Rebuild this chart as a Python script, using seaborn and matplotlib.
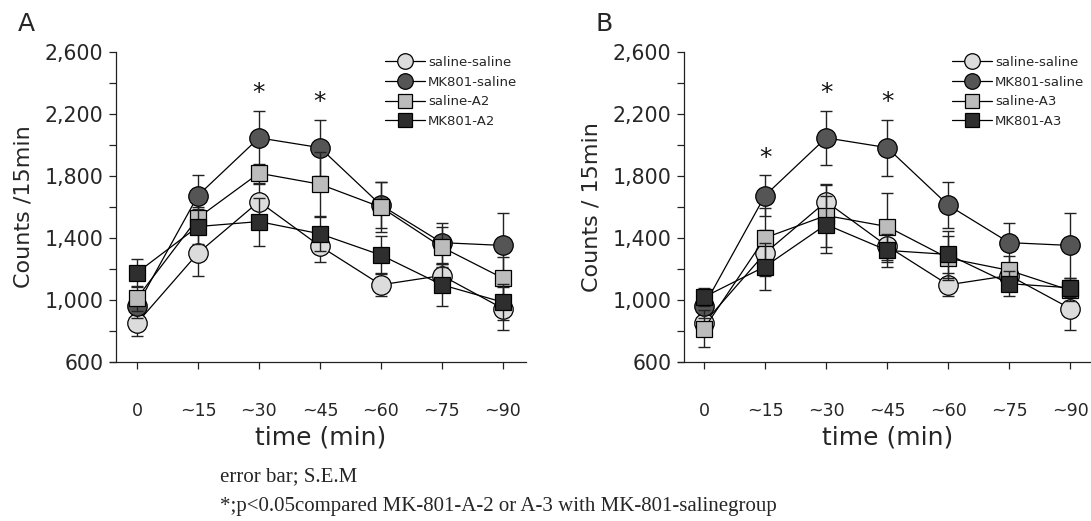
import numpy as np
import pandas as pd
import matplotlib
matplotlib.use("Agg")
import matplotlib.pyplot as plt
import seaborn as sns
from matplotlib.ticker import FixedLocator, FuncFormatter

# ---- data ----
time_labels = ["0", "~15", "~30", "~45", "~60", "~75", "~90"]

saline_saline = [851, 1302, 1635, 1348, 1098, 1158, 945]
saline_saline_err = [85, 150, 115, 100, 75, 75, 140]
mk801_saline = [962, 1674, 2046, 1983, 1612, 1370, 1352]
mk801_saline_err = [80, 130, 175, 180, 150, 130, 210]

saline_a2 = [1012, 1530, 1818, 1747, 1599, 1341, 1141]
saline_a2_err = [80, 70, 60, 205, 160, 130, 135]
mk801_a2 = [1176, 1474, 1506, 1427, 1290, 1098, 986]
mk801_a2_err = [90, 110, 155, 110, 120, 135, 115]

saline_a3 = [815, 1401, 1545, 1474, 1270, 1191, 1062]
saline_a3_err = [120, 190, 200, 215, 140, 90, 70]
mk801_a3 = [1019, 1216, 1487, 1320, 1294, 1105, 1079]
mk801_a3_err = [60, 150, 185, 105, 150, 80, 60]

stars_a = [2, 3]
stars_b = [1, 2, 3]

y_major = [600, 1000, 1400, 1800, 2200, 2600]
y_minor = [800, 1200, 1600, 2000, 2400]

sns.set_theme(style="ticks")
plt.rcParams["font.family"] = ["DejaVu Sans"]

W, H = 1091, 521
fig = plt.figure(figsize=(W / 100, H / 100), dpi=100)
ax_a = fig.add_axes([116 / W, 1 - 362 / H, 410 / W, 310 / H])
ax_b = fig.add_axes([684 / W, 1 - 362 / H, 407 / W, 310 / H])

styles = [
    dict(marker="o", face="#dcdcdc", ms=14),
    dict(marker="o", face="#555555", ms=14),
    dict(marker="s", face="#bcbcbc", ms=12),
    dict(marker="s", face="#2e2e2e", ms=12),
]


def draw_panel(ax, series, names, stars, ylabel, xlim, legend_xy, xlabel_x):
    x = np.arange(len(time_labels))
    for i, ((vals, errs), name, st) in enumerate(zip(series, names, styles)):
        z = 3 + i
        ax.errorbar(x, vals, yerr=errs, fmt="none", ecolor="#222222",
                    elinewidth=1.0, capsize=4.3, capthick=1.0, zorder=z)
        df = pd.DataFrame({"t": x, "v": vals})
        sns.lineplot(data=df, x="t", y="v", ax=ax, color="black", lw=0.9,
                     marker=st["marker"], markersize=st["ms"],
                     markerfacecolor=st["face"], markeredgecolor="black",
                     markeredgewidth=0.9, label=name, zorder=z)
    mk_vals, mk_errs = series[1]
    for s in stars:
        ax.text(s, mk_vals[s] + mk_errs[s] + 112, "*", ha="center",
                va="center", fontsize=18, color="#111111")

    ax.set_xlim(*xlim)
    ax.set_ylim(600, 2600)
    ax.set_xticks(x)
    ax.set_xticklabels(time_labels, fontsize=12.5)
    ax.yaxis.set_major_locator(FixedLocator(y_major))
    ax.yaxis.set_minor_locator(FixedLocator(y_minor))
    ax.yaxis.set_major_formatter(FuncFormatter(lambda v, p: f"{int(v):,}"))
    ax.tick_params(axis="y", which="both", direction="out", length=5,
                   width=0.9, labelsize=14.8, pad=4, color="#222222")
    ax.tick_params(axis="x", direction="out", length=5, width=0.9,
                   pad=24, color="#222222")
    for sp in ["top", "right"]:
        ax.spines[sp].set_visible(False)
    for sp in ["left", "bottom"]:
        ax.spines[sp].set_linewidth(0.9)
        ax.spines[sp].set_color("#222222")
    # x axis line starts a little to the left of the y axis
    ax.spines["bottom"].set_bounds(xlim[0] - 0.1, xlim[1])
    ax.set_xlabel("time (min)", fontsize=18)
    ax.xaxis.set_label_coords(xlabel_x, -0.245)
    ax.xaxis.label.set_va("center")
    ax.set_ylabel(ylabel, fontsize=16, labelpad=8)
    ax.legend(loc="upper left", bbox_to_anchor=legend_xy,
              bbox_transform=fig.transFigure, frameon=False,
              fontsize=9.5, handlelength=3.0, handletextpad=0.25,
              labelspacing=0.5, markerscale=0.8, borderpad=0,
              borderaxespad=0)


draw_panel(ax_a,
           [(saline_saline, saline_saline_err), (mk801_saline, mk801_saline_err),
            (saline_a2, saline_a2_err), (mk801_a2, mk801_a2_err)],
           ["saline-saline", "MK801-saline", "saline-A2", "MK801-A2"],
           stars_a, "Counts /15min", (-0.344, 6.38),
           (385 / W, 1 - 56 / H), 0.5)

draw_panel(ax_b,
           [(saline_saline, saline_saline_err), (mk801_saline, mk801_saline_err),
            (saline_a3, saline_a3_err), (mk801_a3, mk801_a3_err)],
           ["saline-saline", "MK801-saline", "saline-A3", "MK801-A3"],
           stars_b, "Counts / 15min", (-0.328, 6.34),
           (952 / W, 1 - 56 / H), 0.5)

fig.text(18 / W, 1 - 24 / H, "A", fontsize=18, va="center", ha="left")
fig.text(596 / W, 1 - 24 / H, "B", fontsize=18, va="center", ha="left")

serif = ["Liberation Serif", "DejaVu Serif"]
fig.text(220 / W, 1 - 477 / H, "error bar; S.E.M", family=serif,
         fontsize=15, va="center", ha="left")
fig.text(220 / W, 1 - 507 / H,
         "*;p<0.05compared MK-801-A-2 or A-3 with MK-801-salinegroup",
         family=serif, fontsize=15, va="center", ha="left")

fig.savefig("out.png", dpi=100)
